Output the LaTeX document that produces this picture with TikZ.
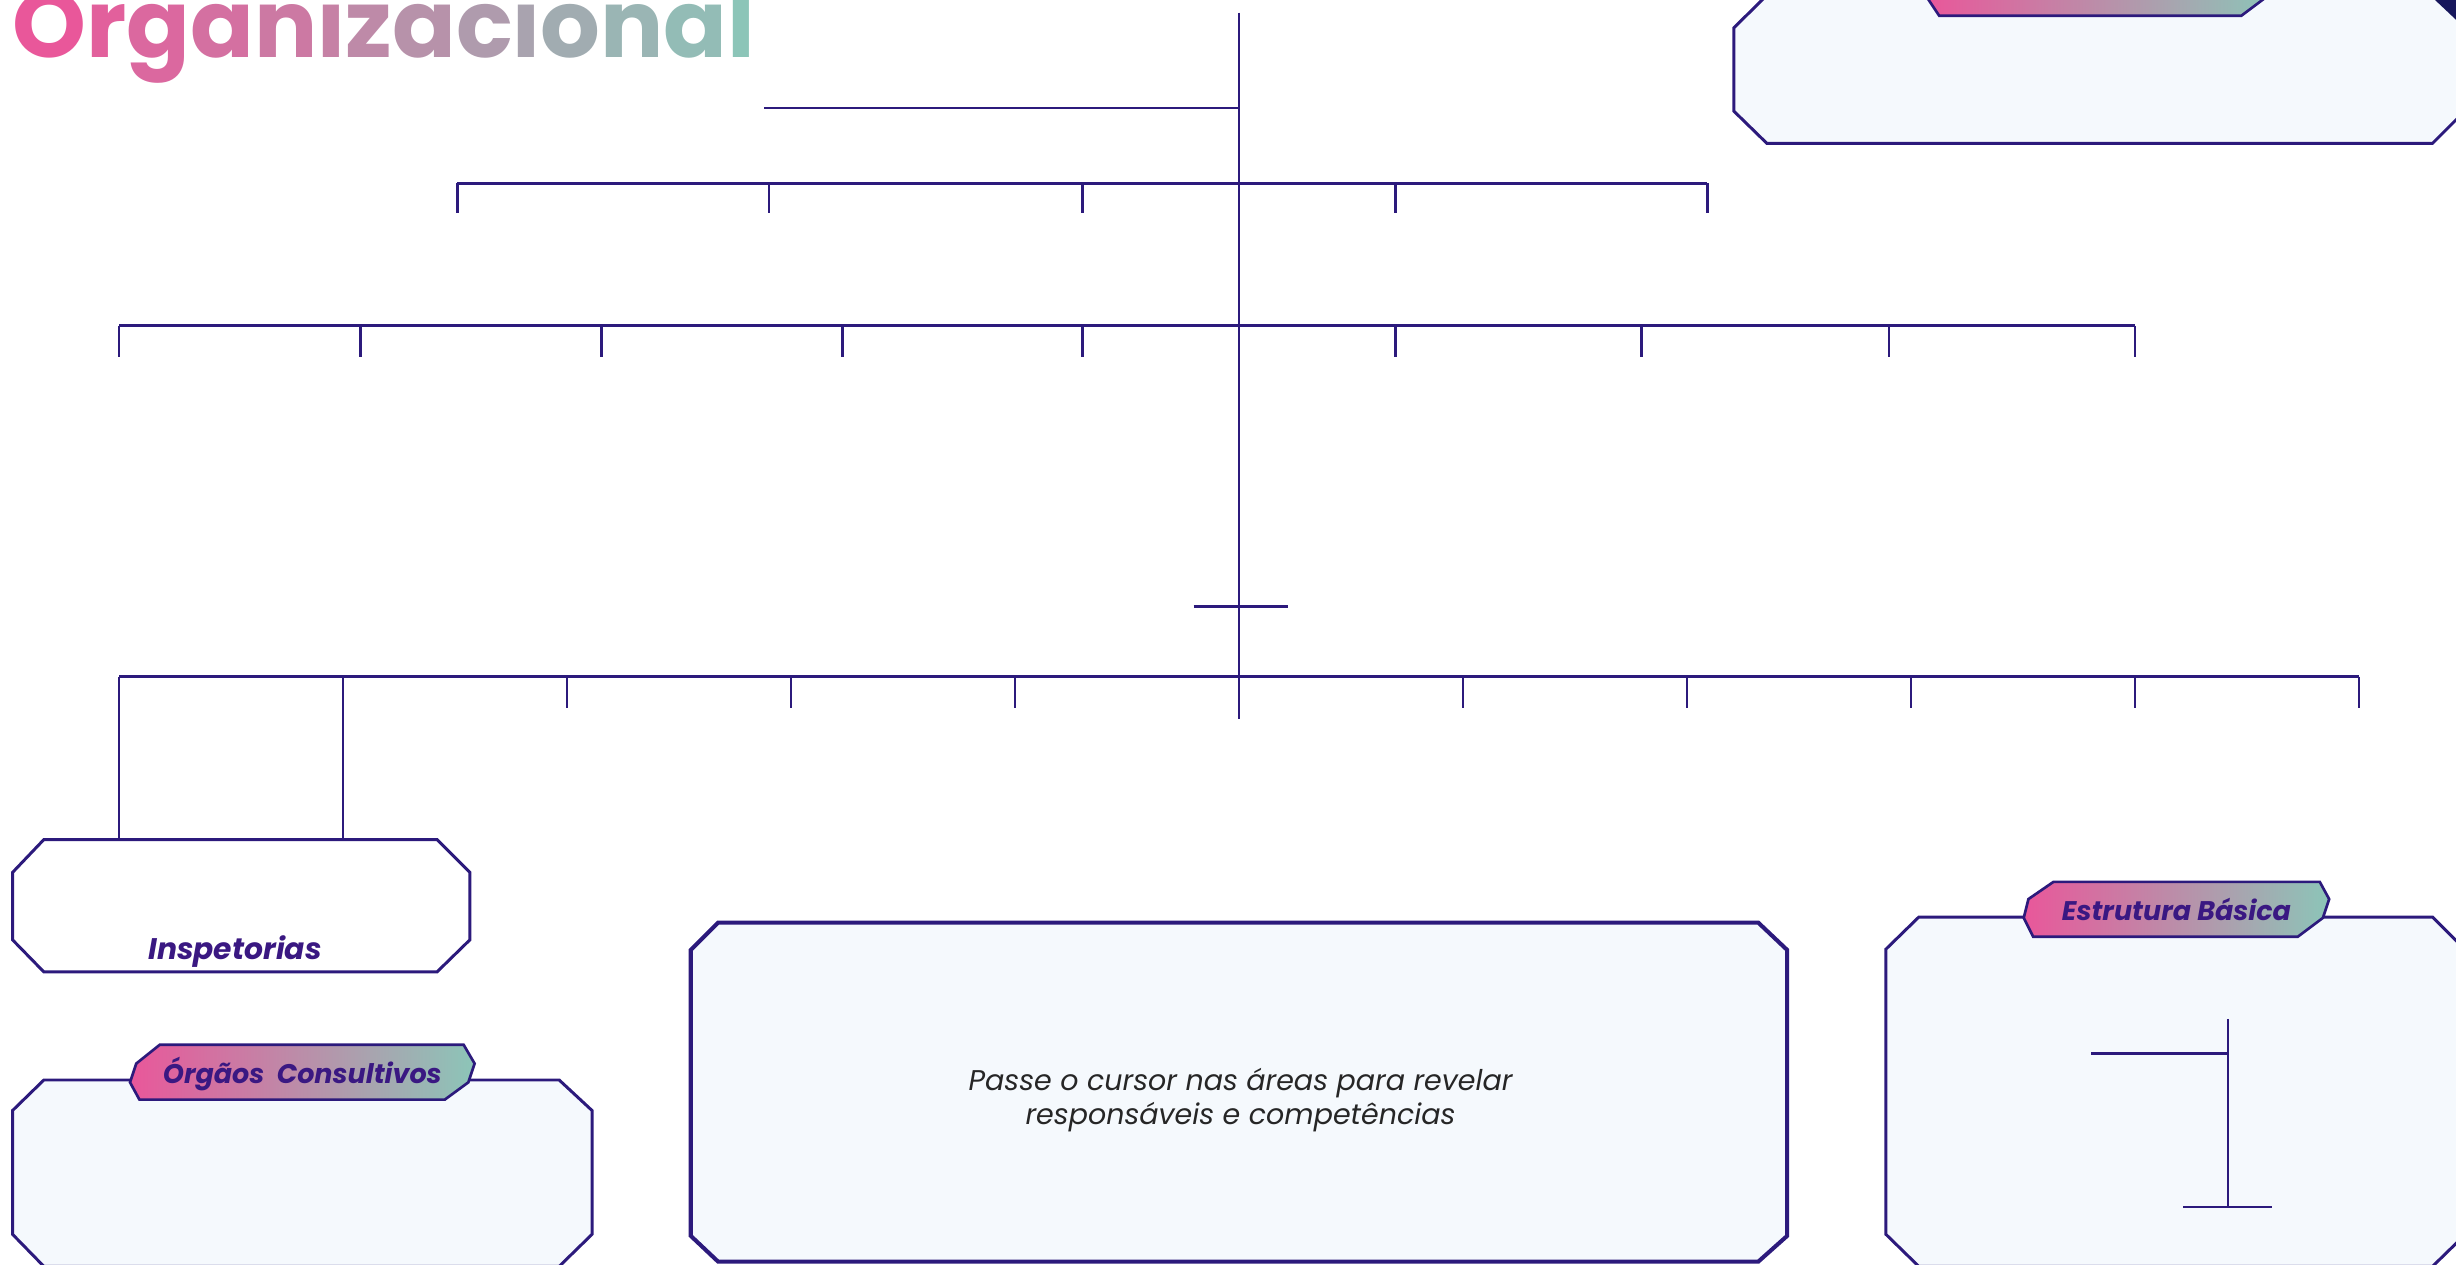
\documentclass[tikz,border=0pt]{standalone}
\usepackage{fontspec}
\setmainfont{Poppins}
\newfontfamily\pop{Poppins}
\definecolor{ink}{HTML}{2C1A7C}
\definecolor{lbl}{HTML}{3A1882}
\definecolor{pinkc}{HTML}{E9579A}
\definecolor{tealc}{HTML}{8CC5B8}
\definecolor{boxfill}{HTML}{F5F9FD}
\definecolor{navy}{HTML}{17175C}
\newcommand{\tl}[2]{\textcolor{tealc!#1!pinkc}{#2}}
\begin{document}
\begin{tikzpicture}[x=1pt,y=-1pt,
  tree/.style={draw=ink, line width=1.7pt},
  panel/.style={draw=ink, line width=1.9pt, fill=boxfill, line join=miter},
  tabshape/.style={draw=ink, line width=1.7pt, left color=pinkc, right color=tealc},
  tablabel/.style={text=lbl, font=\pop\bfseries\itshape\fontsize{17.2}{19}\selectfont, inner sep=0pt, anchor=base}]
\useasboundingbox (0,0) rectangle (1568,807);
\clip (0,0) rectangle (1568,807);

% title
\node[anchor=base west, inner sep=0pt, font=\pop\bfseries\fontsize{60}{60}\selectfont] (title) at (8,37)
 {\tl{0}{O}\tl{8}{r}\tl{15}{g}\tl{23}{a}\tl{31}{n}\tl{38}{i}\tl{46}{z}\tl{54}{a}\tl{62}{c}\tl{69}{i}\tl{77}{o}\tl{85}{n}\tl{92}{a}\tl{100}{l}};

% top-right panel
\draw[panel] (1107,17.7) -- (1127,-2) -- (1580,-2) -- (1580,70) -- (1574,70.5) -- (1553,91.5) -- (1128,91.5) -- (1107,71) -- cycle;
\fill[navy] (1554.6,0) -- (1570,0) -- (1570,14.5) -- cycle;
\draw[tabshape] (1238,10) -- (1431,10) -- (1447,-2) -- (1451,-14) -- (1445,-25) -- (1251,-25) -- (1232,-14) -- (1230,-2) -- cycle;

% Inspetorias
\draw[draw=ink, line width=1.9pt, fill=white] (8,557) -- (28,536) -- (279,536) -- (300,557) -- (300,600) -- (279,620.5) -- (28,620.5) -- (8,600) -- cycle;
\node[tablabel, font=\pop\bfseries\itshape\fontsize{19}{21}\selectfont] (insp) at (150,612.5) {Inspetorias};

% Orgaos consultivos
\draw[panel] (8,709) -- (28,689.5) -- (357,689.5) -- (378,709) -- (378,788) -- (357,808.5) -- (28,808.5) -- (8,788) -- cycle;
\draw[tabshape] (102,667) -- (296,667) -- (303,679) -- (299,691) -- (284,702) -- (89,702) -- (83,691) -- (87,679) -- cycle;
\node[tablabel] (orgaos) at (193,691.5) {Órgãos\ \ Consultivos};

% central panel
\draw[panel, line width=2.6pt] (441,606.5) -- (458.5,589) -- (1122.5,589) -- (1141,606.5) -- (1141,789) -- (1122.5,805.5) -- (458.5,805.5) -- (441,789) -- cycle;
\node[align=center, inner sep=0pt, anchor=base, text=black!85, font=\pop\itshape\fontsize{18.2}{21.5}\selectfont] (hint) at (792,718)
 {Passe o cursor nas áreas para revelar\\responsáveis e competências};

% Estrutura basica
\draw[panel] (1204,606) -- (1225,585.5) -- (1553,585.5) -- (1574,606.5) -- (1574,788) -- (1553,808.5) -- (1225,808.5) -- (1204,788) -- cycle;
\draw[tabshape] (1311,563) -- (1481,563) -- (1487,574) -- (1483,586) -- (1467,598) -- (1298,598) -- (1292,586) -- (1295,574) -- cycle;
\node[tablabel] (estr) at (1389.5,587.5) {Estrutura Básica};
\coordinate (eTop) at (1422.5,650.5);
\coordinate (eBot) at (1422.5,770.5);
\coordinate (eL) at (1335,672.5);
\coordinate (eJ) at (1422.5,672.5);
\coordinate (eBL) at (1394,770.5);
\coordinate (eBR) at (1450.5,770.5);
\draw[tree] (eTop) -- (eBot);
\draw[tree] (eL) -- (eJ);
\draw[tree] (eBL) -- (eBR);

% main tree
\coordinate (trunkTop) at (791,8);
\coordinate (trunkBot) at (791,459);
\draw[tree] (trunkTop) -- (trunkBot);
\coordinate (l1a) at (488,69);
\coordinate (l1b) at (791,69);
\draw[tree] (l1a) -- (l1b);
\coordinate (crA) at (762,387);
\coordinate (crB) at (822,387);
\draw[tree] (crA) -- (crB);

\coordinate (l2a) at (292,117);
\coordinate (l2b) at (1090,117);
\draw[tree] (l2a) -- (l2b);
\foreach \x [count=\i] in {292,491,691,891,1090} {
  \coordinate (l2t\i) at (\x,117);
  \coordinate (l2e\i) at (\x,136);
  \draw[tree] (l2t\i) -- (l2e\i);
}

\coordinate (l3a) at (76,208);
\coordinate (l3b) at (1363,208);
\draw[tree] (l3a) -- (l3b);
\foreach \x [count=\i] in {76,230,384,538,691,891,1048,1206,1363} {
  \coordinate (l3t\i) at (\x,208);
  \coordinate (l3e\i) at (\x,228);
  \draw[tree] (l3t\i) -- (l3e\i);
}

\coordinate (l4a) at (76,432);
\coordinate (l4b) at (1506,432);
\draw[tree] (l4a) -- (l4b);
\foreach \x [count=\i] in {362,505,648,934,1077,1220,1363,1506} {
  \coordinate (l4t\i) at (\x,432);
  \coordinate (l4e\i) at (\x,452);
  \draw[tree] (l4t\i) -- (l4e\i);
}
\coordinate (inspL) at (76,536);
\coordinate (inspR) at (219,536);
\coordinate (inspJ) at (219,432);
\draw[tree] (l4a) -- (inspL);
\draw[tree] (inspJ) -- (inspR);
\end{tikzpicture}
\end{document}
